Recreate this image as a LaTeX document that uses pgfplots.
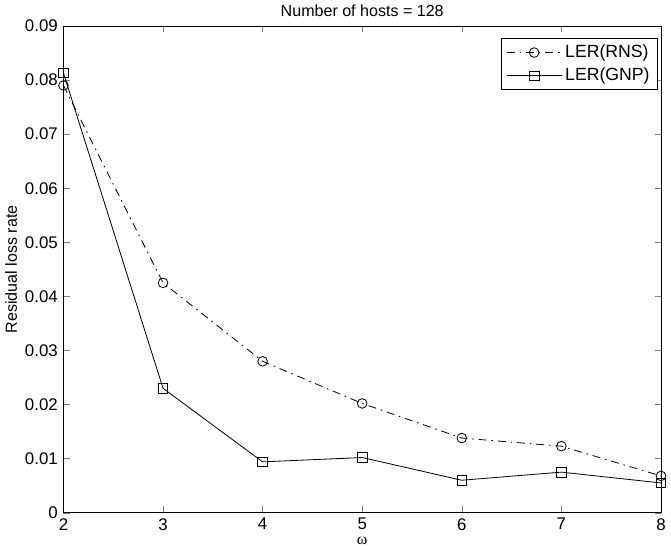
\documentclass[border=0pt]{standalone}
\usepackage{fontspec}
\setmainfont{Liberation Sans}
\newfontfamily\serifgreek{Liberation Serif}
\usepackage{pgfplots}
\pgfplotsset{compat=1.18}

\begin{document}
\begin{tikzpicture}
  \begin{axis}[
    trim axis right,
    width=372pt, height=303pt,
    scale only axis,
    xmin=2, xmax=8,
    ymin=0, ymax=0.09,
    xtick={2,3,4,5,6,7,8},
    ytick={0,0.01,0.02,0.03,0.04,0.05,0.06,0.07,0.08,0.09},
    /pgf/number format/assume math mode=true,
    yticklabel style={/pgf/number format/fixed, /pgf/number format/precision=2},
    scaled y ticks=false,
    tick label style={font=\fontsize{10.5}{12}\selectfont},
    label style={font=\fontsize{10}{12}\selectfont},
    title style={font=\fontsize{10}{12}\selectfont, yshift=-4pt},
    title={Number of hosts = 128},
    xlabel={{\serifgreek ω}},
    xlabel style={yshift=3pt},
    ylabel={Residual loss rate},
    ylabel style={yshift=-2pt},
    axis line style={line width=0.5pt},
    major tick length=4pt,
    legend style={at={(0.995,0.975)}, anchor=north east, draw=black,
                  font=\fontsize{11}{13}\selectfont, legend cell align=left,
                  inner xsep=3pt, inner ysep=2pt, row sep=1pt},
    legend image code/.code={
      \draw[mark repeat=2, mark phase=2] plot coordinates {(0cm,0cm) (0.6cm,0cm) (1.2cm,0cm)};
    },
  ]
    \addplot[black, line width=0.5pt, dash pattern=on 5pt off 3pt on 1pt off 3pt,
             mark=o, mark size=3pt, mark options={solid}]
      coordinates {(2,0.0790) (3,0.0425) (4,0.0280) (5,0.0202) (6,0.0138) (7,0.0123) (8,0.0068)};
    \addplot[black, line width=0.5pt, mark=square, mark size=3pt]
      coordinates {(2,0.0813) (3,0.0230) (4,0.0094) (5,0.0102) (6,0.0060) (7,0.0075) (8,0.0055)};
    \legend{LER(RNS), LER(GNP)}
  \end{axis}
\end{tikzpicture}
\end{document}
